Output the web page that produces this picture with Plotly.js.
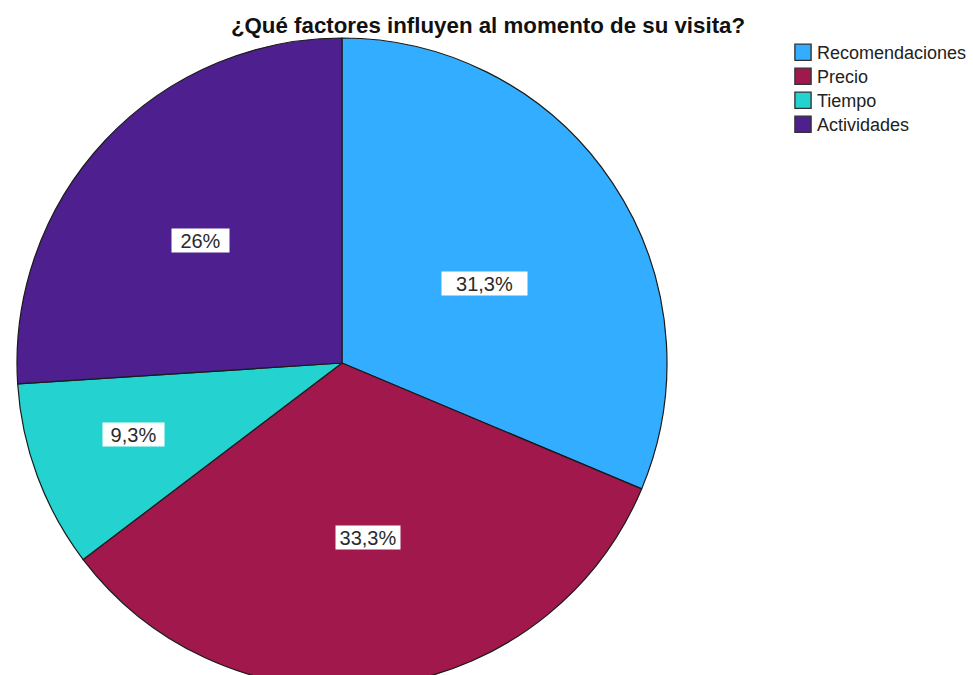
<!DOCTYPE html>
<html>
<head>
<meta charset="utf-8">
<script src="https://cdn.plot.ly/plotly-3.0.1.min.js"></script>
<style>
html, body { margin:0; padding:0; width:973px; height:675px; overflow:hidden; background:#fff; }
#chart { width:973px; height:700px; }
</style>
</head>
<body>
<div id="chart"></div>
<script>
// Data
const categories = ["Recomendaciones", "Precio", "Tiempo", "Actividades"];
const percents = [31.3, 33.3, 9.3, 26];
const labelTexts = ["31,3%", "33,3%", "9,3%", "26%"];
const colors = ["#33ADFF", "#A0184C", "#24D3D0", "#4E1F8F"];

// Layout (pixel positions within a 973x700 canvas)
const W = 973, H = 700;
const labelCenters = [[484, 283.5], [368, 537], [133, 434], [200, 240]];
const labelWidths = [85, 64, 61, 57];

const trace = {
  type: "pie",
  labels: categories,
  values: percents,
  sort: false,
  direction: "clockwise",
  rotation: 0,
  textinfo: "none",
  hoverinfo: "label+percent",
  marker: { colors: colors, line: { color: "#1a1a1a", width: 1.2 } },
  domain: { x: [17 / W, 667 / W], y: [1 - 688 / H, 1 - 38 / H] },
  automargin: false
};

const annotations = labelTexts.map((t, i) => ({
  text: t,
  xref: "paper", yref: "paper",
  x: labelCenters[i][0] / W,
  y: 1 - labelCenters[i][1] / H,
  xanchor: "center", yanchor: "middle",
  showarrow: false,
  bgcolor: "#ffffff",
  borderpad: 0,
  width: labelWidths[i],
  height: 23,
  font: { family: "Liberation Sans, Arial, sans-serif", size: 20, color: "#2a2a2a" }
}));

const layout = {
  width: W, height: H,
  margin: { l: 0, r: 0, t: 0, b: 0, autoexpand: false },
  paper_bgcolor: "#fff",
  title: {
    text: "<b>¿Qué factores influyen al momento de su visita?</b>",
    x: 488 / W, xanchor: "center",
    y: 1 - 25 / H, yanchor: "middle",
    font: { family: "Liberation Sans, Arial, sans-serif", size: 22.3, color: "#111" }
  },
  showlegend: true,
  legend: {
    x: 783 / W, y: 1 - 34 / H, xanchor: "left", yanchor: "top",
    font: { family: "Liberation Sans, Arial, sans-serif", size: 18, color: "#222" },
    itemwidth: 30,
    bgcolor: "rgba(0,0,0,0)"
  },
  annotations: annotations
};

Plotly.newPlot("chart", [trace], layout, { displayModeBar: false, staticPlot: true }).then(gd => {
  // tweak legend look: bigger swatches, tighter text gap and row spacing
  const items = gd.querySelectorAll(".legend .traces");
  let y0 = null;
  items.forEach((g, i) => {
    const m = /translate\(([-\d.]+),\s*([-\d.]+)\)/.exec(g.getAttribute("transform") || "");
    if (m) {
      if (y0 === null) y0 = parseFloat(m[2]);
      g.setAttribute("transform", "translate(" + m[1] + "," + (y0 + i * 24) + ")");
    }
    g.querySelectorAll(".legendpoints path").forEach(p => {
      const t = p.getAttribute("transform") || "";
      p.setAttribute("transform", t + " scale(1.35)");
      p.style.strokeWidth = "1px";
      p.style.stroke = "#333";
    });
    const txt = g.querySelector(".legendtext");
    if (txt) txt.setAttribute("x", "34");
  });
});
</script>
</body>
</html>
